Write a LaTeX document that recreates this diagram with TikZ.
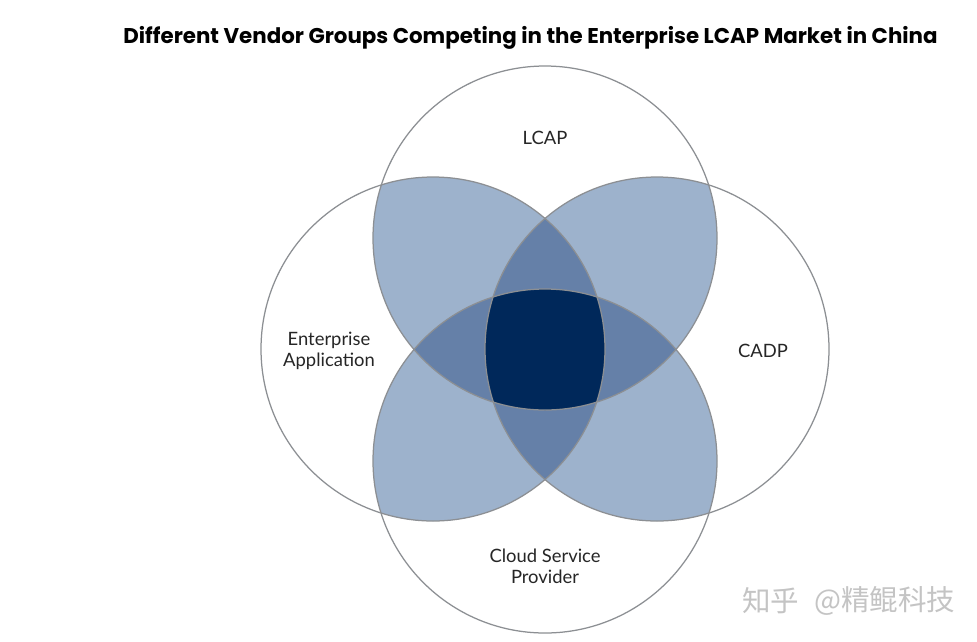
\documentclass[tikz,border=0pt]{standalone}
\usepackage{fontspec}
\setmainfont{Lato}
\newfontfamily\titlefont{Poppins}
\newfontfamily\cjkfont{Noto Sans CJK SC}
\definecolor{ringc}{HTML}{8C8F93}
\definecolor{pairc}{HTML}{9DB2CC}
\definecolor{triplec}{HTML}{6580A8}
\definecolor{quadc}{HTML}{00285A}
\definecolor{markc}{HTML}{C4C4C4}
\tikzset{
  vlabel/.style={align=center,font=\fontsize{18.4}{21}\selectfont,text=black!85,inner sep=0pt},
  ring/.style={draw=ringc,line width=1.25pt},
  wm/.style={font=\fontsize{28.5}{28.5}\cjkfont,text=markc,inner sep=0pt,anchor=west}
}
\def\R{172pt}
\begin{document}
\begin{tikzpicture}[x=1pt,y=-1pt]
\useasboundingbox (0,0) rectangle (977,641);
\fill[white] (0,0) rectangle (977,641);
\coordinate (T) at (545,238);
\coordinate (L) at (433,349);
\coordinate (Rr) at (657,349);
\coordinate (B) at (545,461);
% pair overlaps
\foreach \a/\b in {T/L,T/Rr,B/L,B/Rr}{
  \begin{scope}
    \clip (\a) circle (\R);
    \fill[pairc] (\b) circle (\R);
  \end{scope}
}
% triple overlaps
\foreach \a/\b/\c in {T/L/Rr,B/L/Rr,T/B/L,T/B/Rr}{
  \begin{scope}
    \clip (\a) circle (\R);
    \clip (\b) circle (\R);
    \fill[triplec] (\c) circle (\R);
  \end{scope}
}
% quadruple overlap
\begin{scope}
  \clip (T) circle (\R);
  \clip (B) circle (\R);
  \clip (L) circle (\R);
  \fill[quadc] (Rr) circle (\R);
\end{scope}
\foreach \a in {T,L,Rr,B}{ \draw[ring] (\a) circle (\R); }
\node[inner sep=0pt,font=\titlefont\bfseries\fontsize{21.35}{24}\selectfont] (title) at (530.5,37.5) {Different Vendor Groups Competing in the Enterprise LCAP Market in China};
\node[vlabel] (lcap) at (545,138) {LCAP};
\node[vlabel] (ea) at (329,351) {Enterprise\\Application};
\node[vlabel] (cadp) at (763,351) {CADP};
\node[vlabel] (csp) at (545,566) {Cloud Service\\Provider};
\node[wm] (zh) at (742,601) {知乎};
\node[wm] (at) at (814,601) {@精鲲科技};
\end{tikzpicture}
\end{document}
